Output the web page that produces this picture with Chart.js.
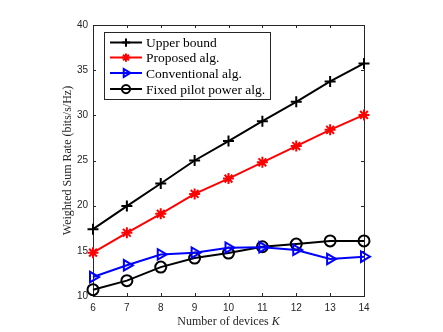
<!DOCTYPE html>
<html><head><meta charset="utf-8">
<script src="https://cdn.jsdelivr.net/npm/chart.js@4/dist/chart.umd.min.js"></script>
<style>html,body{margin:0;padding:0;background:#fff}#wrap{width:443px;height:332px}</style>
</head><body><div id="wrap"><canvas id="c" width="443" height="332"></canvas></div>
<script>
const devices = [6, 7, 8, 9, 10, 11, 12, 13, 14];
const upperBound = [17.4, 19.95, 22.45, 25.0, 27.15, 29.35, 31.5, 33.75, 35.75];
const proposedAlg = [14.8, 17.0, 19.1, 21.3, 23.0, 24.8, 26.6, 28.4, 30.05];
const conventionalAlg = [12.1, 13.4, 14.6, 14.8, 15.35, 15.4, 15.1, 14.1, 14.35];
const fixedPilotAlg = [10.7, 11.7, 13.2, 14.2, 14.75, 15.45, 15.75, 16.1, 16.1];
const seriesNames = ["Upper bound", "Proposed alg.", "Conventional alg.", "Fixed pilot power alg."];
const xTickValues = [6, 7, 8, 9, 10, 11, 12, 13, 14];
const yTickValues = [10, 15, 20, 25, 30, 35, 40];

const AX = '#262626';
const pts = arr => devices.map((d, i) => ({x: d, y: arr[i]}));

function ds(label, data, color, style, radius, rotation) {
  return {
    label, data: pts(data), borderColor: color, backgroundColor: 'rgba(0,0,0,0)',
    borderWidth: 2, pointStyle: style, pointRadius: radius, pointRotation: rotation || 0,
    pointBorderColor: color, pointBackgroundColor: 'rgba(0,0,0,0)', pointBorderWidth: 2,
    pointHoverRadius: radius, tension: 0, clip: false
  };
}

const boxPlugin = {
  id: 'boxTicks',
  beforeDatasetsDraw(chart) {
    const {ctx, chartArea: a, scales: {x, y}} = chart;
    ctx.save();
    ctx.strokeStyle = AX; ctx.lineWidth = 1;
    const tl = 3;
    ctx.beginPath();
    x.ticks.forEach(t => {
      const px = Math.round(x.getPixelForValue(t.value)) + 0.5;
      ctx.moveTo(px, a.bottom); ctx.lineTo(px, a.bottom - tl);
      ctx.moveTo(px, a.top); ctx.lineTo(px, a.top + tl);
    });
    y.ticks.forEach(t => {
      const py = Math.round(y.getPixelForValue(t.value)) + 0.5;
      ctx.moveTo(a.left, py); ctx.lineTo(a.left + tl, py);
      ctx.moveTo(a.right, py); ctx.lineTo(a.right - tl, py);
    });
    ctx.stroke();
    ctx.strokeRect(Math.round(a.left) + 0.5, Math.round(a.top) + 0.5, Math.round(a.right - a.left), Math.round(a.bottom - a.top));
    // axis titles
    ctx.fillStyle = AX;
    ctx.textBaseline = 'alphabetic';
    const f1 = '12px "Liberation Serif"', f2 = 'italic 12px "Liberation Serif"';
    const s1 = 'Number of devices ', s2 = 'K';
    ctx.font = f1; const w1 = ctx.measureText(s1).width;
    ctx.font = f2; const w2 = ctx.measureText(s2).width;
    const cx = (a.left + a.right) / 2;
    let sx = cx - (w1 + w2) / 2;
    ctx.font = f1; ctx.textAlign = 'left'; ctx.fillText(s1, sx, 325);
    ctx.font = f2; ctx.fillText(s2, sx + w1, 325);
    ctx.translate(70.5, (a.top + a.bottom) / 2);
    ctx.rotate(-Math.PI / 2);
    ctx.font = f1; ctx.textAlign = 'center';
    ctx.fillText('Weighted Sum Rate (bits/s/Hz)', 0, 0);
    ctx.restore();
  },
  afterDatasetsDraw(chart) {
    const {ctx} = chart;
    ctx.save();
    const bx = 104.5, by = 32.5, bw = 166, bh = 67;
    ctx.fillStyle = '#fff'; ctx.fillRect(bx, by, bw, bh);
    ctx.strokeStyle = AX; ctx.lineWidth = 1; ctx.strokeRect(bx, by, bw, bh);
    const rows = [42.5, 57.5, 73, 89];
    ctx.font = '13.5px "Liberation Serif"';
    ctx.textBaseline = 'middle'; ctx.textAlign = 'left';
    chart.data.datasets.forEach((d, i) => {
      const yy = rows[i];
      ctx.strokeStyle = d.borderColor; ctx.lineWidth = 2;
      ctx.beginPath(); ctx.moveTo(110, yy); ctx.lineTo(142, yy); ctx.stroke();
      ctx.fillStyle = 'rgba(0,0,0,0)';
      Chart.helpers.drawPoint(ctx, {pointStyle: d.pointStyle, radius: d.pointRadius * 0.75, rotation: d.pointRotation, borderWidth: 2}, 126, yy);
      ctx.fillStyle = '#000';
      ctx.fillText(d.label, 146, yy + 1);
    });
    ctx.restore();
  }
};

new Chart(document.getElementById('c'), {
  type: 'line',
  data: {
    datasets: [
      ds(seriesNames[0], upperBound, '#000000', 'cross', 5.5),
      ds(seriesNames[1], proposedAlg, '#ff0000', 'star', 5.5),
      ds(seriesNames[2], conventionalAlg, '#0000ff', 'triangle', 6, 90),
      ds(seriesNames[3], fixedPilotAlg, '#000000', 'circle', 5.5)
    ]
  },
  options: {
    responsive: false, devicePixelRatio: 1, animation: false,
    layout: {padding: {left: 53, right: 79, top: 25, bottom: 0}},
    plugins: {legend: {display: false}, tooltip: {enabled: false}},
    scales: {
      x: {
        type: 'linear', min: 6, max: 14,
        afterFit: s => { s.height = 36; },
        afterBuildTicks: s => { s.ticks = xTickValues.map(v => ({value: v})); },
        grid: {display: false, drawTicks: false}, border: {display: false},
        ticks: {color: AX, font: {family: '"Liberation Sans"', size: 10}, padding: 6, maxRotation: 0, autoSkip: false}
      },
      y: {
        type: 'linear', min: 10, max: 40,
        afterFit: s => { s.width = 40; },
        afterBuildTicks: s => { s.ticks = yTickValues.map(v => ({value: v})); },
        grid: {display: false, drawTicks: false}, border: {display: false},
        ticks: {color: AX, font: {family: '"Liberation Sans"', size: 10}, padding: 5, autoSkip: false}
      }
    }
  },
  plugins: [boxPlugin]
});
</script></body></html>
